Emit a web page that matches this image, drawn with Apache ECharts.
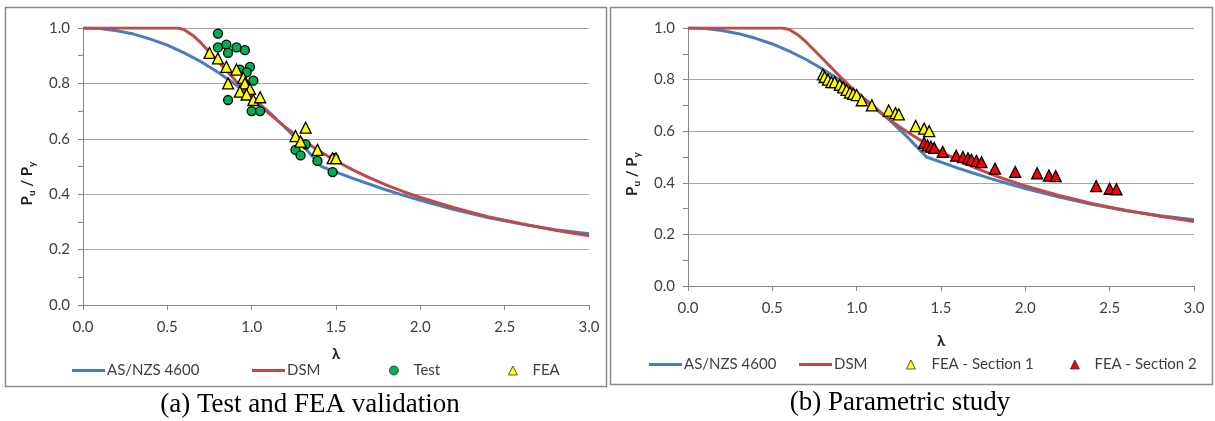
<!DOCTYPE html>
<html><head><meta charset="utf-8">
<script src="https://cdn.jsdelivr.net/npm/echarts@6/dist/echarts.min.js"></script>
<style>html,body{margin:0;padding:0;background:#fff}#c{width:1215px;height:421px}</style>
</head><body><div id="c"></div>
<script>
// ---- data ----
const asLambda = [0,0.1,0.2,0.3,0.4,0.5,0.6,0.7,0.8,0.9,1.0,1.1,1.2,1.3,1.414,1.5,1.6,1.7,1.8,1.9,2.0,2.2,2.4,2.6,2.8,3.0];
const asValues = [1,0.998,0.99,0.978,0.96,0.938,0.91,0.878,0.84,0.798,0.75,0.698,0.64,0.578,0.5,0.48,0.457,0.436,0.415,0.396,0.378,0.345,0.316,0.292,0.272,0.257];
const dsmLambda = [0,0.56,0.6,0.65,0.7,0.8,0.9,1.0,1.1,1.2,1.3,1.4,1.5,1.6,1.7,1.8,1.9,2.0,2.2,2.4,2.6,2.8,3.0];
const dsmValues = [1,1,0.994,0.974,0.946,0.880,0.813,0.750,0.693,0.642,0.597,0.556,0.520,0.488,0.459,0.433,0.409,0.388,0.351,0.319,0.293,0.270,0.250];

const testLambda = [0.80,0.80,0.85,0.86,0.91,0.96,0.99,0.93,0.97,1.01,0.86,1.00,1.05,1.32,1.26,1.29,1.39,1.49,1.48];
const testValues = [0.98,0.93,0.94,0.91,0.93,0.92,0.86,0.85,0.84,0.81,0.74,0.70,0.70,0.58,0.56,0.54,0.52,0.53,0.48];
const feaLambda = [0.75,0.80,0.85,0.91,0.86,0.95,0.96,0.99,0.93,0.97,1.01,1.05,1.32,1.26,1.29,1.39,1.48,1.50];
const feaValues = [0.91,0.89,0.86,0.85,0.80,0.82,0.80,0.78,0.77,0.76,0.74,0.75,0.64,0.61,0.59,0.56,0.53,0.53];

const sec1Lambda = [0.80,0.81,0.83,0.85,0.87,0.90,0.92,0.94,0.96,0.98,1.00,1.03,1.09,1.19,1.23,1.25,1.35,1.40,1.43];
const sec1Values = [0.82,0.81,0.80,0.79,0.79,0.78,0.77,0.76,0.75,0.745,0.74,0.72,0.70,0.68,0.67,0.665,0.62,0.61,0.60];
const sec2Lambda = [1.40,1.42,1.44,1.46,1.51,1.59,1.63,1.66,1.68,1.71,1.74,1.82,1.94,2.07,2.14,2.18,2.42,2.50,2.54];
const sec2Values = [0.555,0.545,0.54,0.535,0.52,0.505,0.50,0.495,0.49,0.485,0.48,0.455,0.442,0.437,0.428,0.426,0.387,0.377,0.375];

const xTickLabels = ['0.0','0.5','1.0','1.5','2.0','2.5','3.0'];
const yTickLabels = ['0.0','0.2','0.4','0.6','0.8','1.0'];
const captions = ['(a) Test and FEA validation', '(b) Parametric study'];

// ---- helpers ----
const pairs = (xs, ys) => xs.map((x, i) => [x, ys[i]]);
const FONT = 'Lato';
const TXT = '#404040';
const GRID = '#a6a6a6';
const BLUE = '#4a7ebb', RED = '#be4b48';

function xAxis(gi, gap) {
  return {
    type: 'value', gridIndex: gi, min: 0, max: 3, interval: 0.5,
    name: 'λ', nameLocation: 'middle', nameGap: gap,
    nameTextStyle: { fontFamily: FONT, fontSize: 15, fontWeight: 'bold', color: '#222' },
    axisLine: { lineStyle: { color: '#868686' } },
    axisTick: { show: true, length: 5, lineStyle: { color: '#868686' } },
    splitLine: { show: false },
    axisLabel: { fontFamily: FONT, fontSize: 15, color: TXT, margin: 15,
      formatter: v => xTickLabels[Math.round(v / 0.5)] }
  };
}
function yAxis(gi) {
  return {
    type: 'value', gridIndex: gi, min: 0, max: 1, interval: 0.2,
    name: '{a|P}{b|u}{a| / P}{b|y}', nameLocation: 'middle', nameGap: 46,
    nameTextStyle: { color: '#222', padding: [0, 34, 0, 0], rich: {
      a: { fontFamily: FONT, fontSize: 15, fontWeight: 'bold', lineHeight: 20, verticalAlign: 'middle', color: '#222' },
      b: { fontFamily: FONT, fontSize: 10, fontWeight: 'bold', lineHeight: 20, verticalAlign: 'bottom', color: '#222' } } },
    axisLine: { show: true, lineStyle: { color: '#868686' } },
    axisTick: { show: true, length: 5, lineStyle: { color: '#868686' } },
    minorTick: { show: true, splitNumber: 2, length: 5, lineStyle: { color: '#868686' } },
    splitLine: { show: true, lineStyle: { color: GRID, width: 1 } },
    axisLabel: { fontFamily: FONT, fontSize: 15, color: TXT, margin: 13,
      formatter: v => yTickLabels[Math.round(v / 0.2)] }
  };
}
function lineSeries(name, xs, ys, color, gi) {
  return { name, type: 'line', xAxisIndex: gi, yAxisIndex: gi, data: pairs(xs, ys),
    symbol: 'none', smooth: false, z: 2,
    lineStyle: { color, width: 3, join: 'round' }, itemStyle: { color } };
}
function scatterSeries(name, xs, ys, symbol, size, color, gi) {
  return { name, type: 'scatter', xAxisIndex: gi, yAxisIndex: gi, data: pairs(xs, ys),
    symbol, symbolSize: size, z: 5,
    itemStyle: { color, borderColor: '#000', borderWidth: 1.3, opacity: 1 } };
}
function lineLegend(name, color, left, top) {
  return { data: [{ name, icon: 'rect', itemStyle: { color, borderWidth: 0 } }], left, top, itemWidth: 33, itemHeight: 3,
    padding: 0, selectedMode: false,
    textStyle: { fontFamily: FONT, fontSize: 15, color: TXT, padding: [0, 0, 0, -3] } };
}
function markLegend(name, icon, color, left, top, gap) {
  return { data: [{ name, icon, itemStyle: { color, borderColor: '#333', borderWidth: 0.8 } }], left, top, itemWidth: 9, itemHeight: 9,
    padding: 0, selectedMode: false,
    textStyle: { fontFamily: FONT, fontSize: 15, color: TXT, padding: [0, 0, 0, gap] } };
}

const option = {
  animation: false,
  backgroundColor: '#fff',
  grid: [
    { left: 83, top: 28, width: 506, height: 277 },
    { left: 688, top: 28, width: 506, height: 258 }
  ],
  xAxis: [xAxis(0, 42), xAxis(1, 48)],
  yAxis: [yAxis(0), yAxis(1)],
  legend: [
    lineLegend('AS/NZS 4600', BLUE, 72, 363),
    lineLegend('DSM', RED, 252, 363),
    markLegend('Test', 'circle', '#00b050', 389, 363, 10),
    markLegend('FEA', 'triangle', '#ffff00', 508, 363, 10),
    lineLegend('AS/NZS 4600', BLUE, 649, 357),
    lineLegend('DSM', RED, 799, 357),
    markLegend('FEA - Section 1', 'triangle', '#ffff00', 906, 357, 11),
    markLegend('FEA - Section 2', 'triangle', '#ff0000', 1070, 357, 10)
  ],
  series: [
    lineSeries('AS/NZS 4600', asLambda, asValues, BLUE, 0),
    lineSeries('DSM', dsmLambda, dsmValues, RED, 0),
    scatterSeries('Test', testLambda, testValues, 'circle', 9, '#00b050', 0),
    scatterSeries('FEA', feaLambda, feaValues, 'triangle', 11, '#ffff00', 0),
    lineSeries('AS/NZS 4600', asLambda, asValues, BLUE, 1),
    lineSeries('DSM', dsmLambda, dsmValues, RED, 1),
    scatterSeries('FEA - Section 1', sec1Lambda, sec1Values, 'triangle', 11, '#ffff00', 1),
    scatterSeries('FEA - Section 2', sec2Lambda, sec2Values, 'triangle', 11, '#ff0000', 1)
  ],
  graphic: [
    { type: 'rect', shape: { x: 5.5, y: 7.5, width: 601, height: 379 }, style: { fill: 'none', stroke: '#8c8c8c', lineWidth: 1.5 }, silent: true },
    { type: 'rect', shape: { x: 610.5, y: 7.5, width: 602, height: 377 }, style: { fill: 'none', stroke: '#8c8c8c', lineWidth: 1.5 }, silent: true },
    { type: 'text', x: 310, y: 405, silent: true, style: { text: captions[0], fontFamily: 'Liberation Serif', fontSize: 27, fill: '#000', align: 'center', verticalAlign: 'middle' } },
    { type: 'text', x: 900, y: 403, silent: true, style: { text: captions[1], fontFamily: 'Liberation Serif', fontSize: 27, fill: '#000', align: 'center', verticalAlign: 'middle' } }
  ]
};
const chart = echarts.init(document.getElementById('c'), null, { renderer: 'canvas' });
chart.setOption(option);
</script>
</body></html>
